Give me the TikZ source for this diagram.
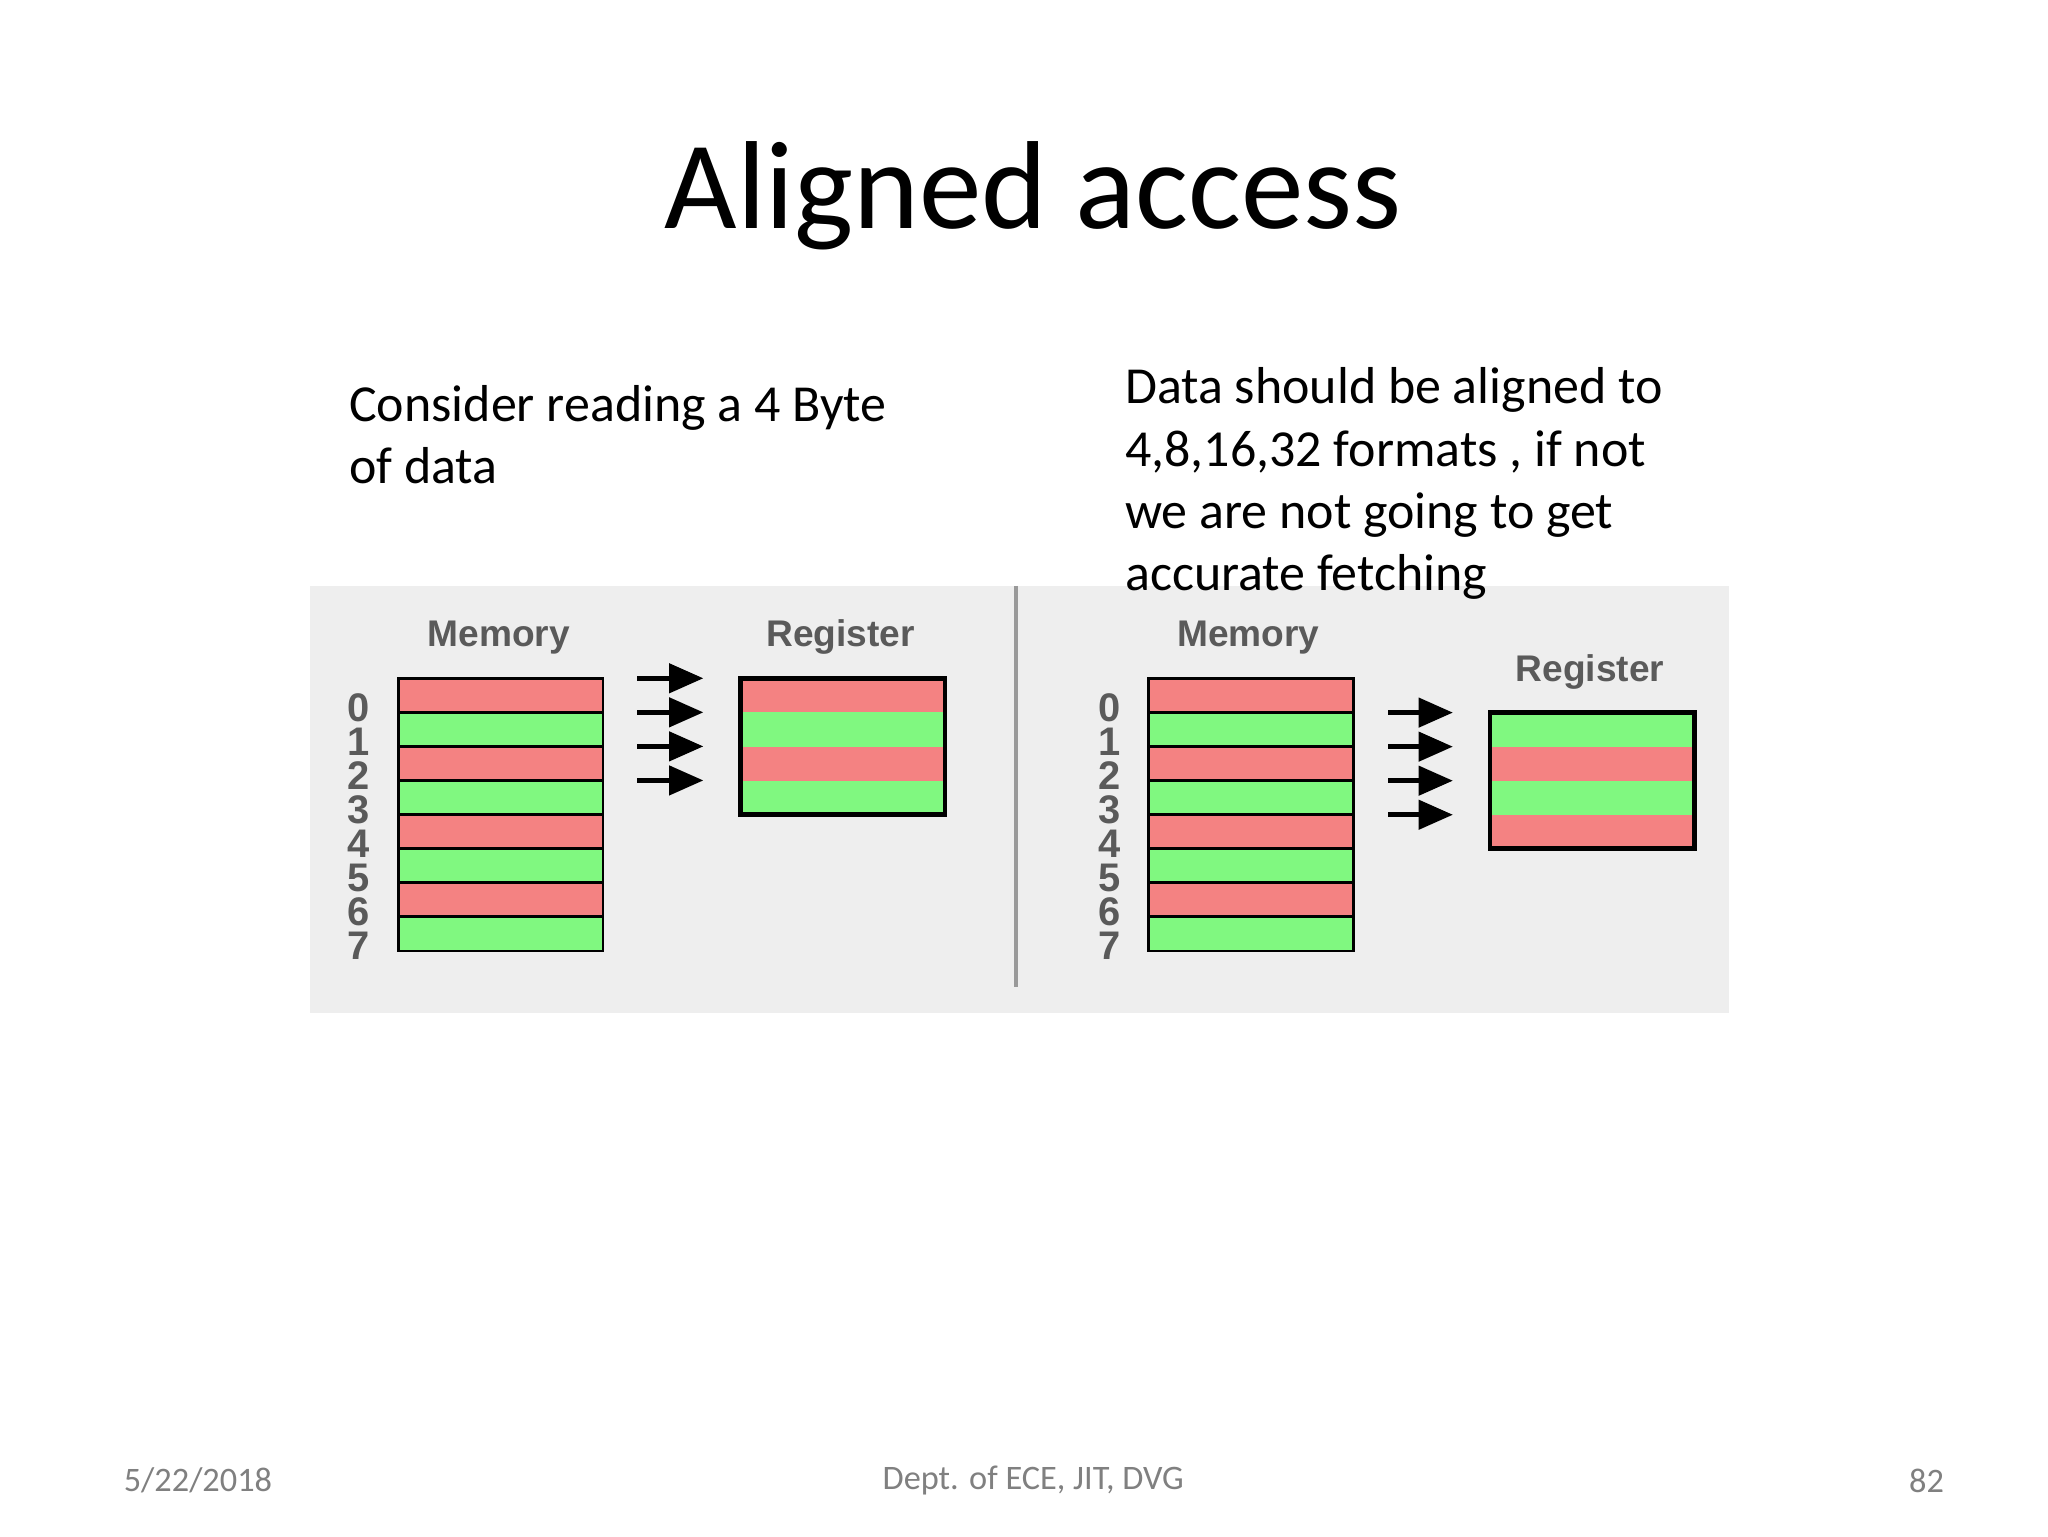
\documentclass[tikz,border=0pt]{standalone}
\usepackage{fontspec}
\setmainfont{Carlito}
\newfontfamily\lab{Liberation Sans}
\usetikzlibrary{arrows.meta}
\definecolor{rowred}{HTML}{F48282}
\definecolor{rowgreen}{HTML}{80F880}
\definecolor{panel}{HTML}{EEEEEE}
\definecolor{labgray}{HTML}{5A5A5A}
\tikzset{
  cell/.style={draw=black,line width=0.55pt,minimum width=15.5mm,minimum height=2.58mm,inner sep=0pt,outer sep=0pt},
  lbl/.style={font=\lab\bfseries\fontsize{8}{8}\selectfont,text=labgray,inner sep=0pt},
  num/.style={font=\lab\bfseries\fontsize{8.6}{8}\selectfont,text=labgray,inner sep=0pt},
  arr/.style={-{Triangle[length=2.6mm,width=2.2mm]},line width=1pt},
  body/.style={font=\fontsize{11.2}{13.4}\selectfont,align=left,anchor=north west,inner sep=0pt},
  foot/.style={font=\fontsize{7.4}{8}\selectfont,text=gray,inner sep=0pt}
}
\begin{document}
\begin{tikzpicture}[x=0.1mm,y=-0.1mm]
\useasboundingbox (0,0) rectangle (1552,1164);
\fill[white] (0,0) rectangle (1552,1164);
\node[font=\fontsize{27}{30}\selectfont,inner sep=0pt] (title) at (783,148) {Aligned access};
\fill[panel] (235,444) rectangle (1310,768);
\draw[gray!80,line width=1pt] (770,444) -- (770,748);
\node[body] (t1) at (264,291) {Consider reading a 4 Byte\\of data};
\node[body] (t2) at (852,278) {Data should be aligned to\\4,8,16,32 formats , if not\\we are not going to get\\accurate fetching};
\node[lbl] (m1) at (378,483) {Memory};
\node[lbl] (r1) at (637,483) {Register};
\foreach \i in {0,...,7}{
  \pgfmathsetmacro{\yy}{527+25.8*\i}
  \pgfmathtruncatemacro{\odd}{mod(\i,2)}
  \ifnum\odd=0 \def\c{rowred}\else\def\c{rowgreen}\fi
  \node[cell,fill=\c] (lm\i) at (379.5,\yy) {};
  \node[num] (ln\i) at (272,\yy+9) {\i};
  \node[cell,fill=\c] (rm\i) at (948,\yy) {};
  \node[num] (rn\i) at (841,\yy+9) {\i};
}
\foreach \i in {0,...,3}{
  \pgfmathsetmacro{\yy}{527+25.8*\i}
  \pgfmathtruncatemacro{\odd}{mod(\i,2)}
  \ifnum\odd=0 \def\c{rowred}\def\d{rowgreen}\else\def\c{rowgreen}\def\d{rowred}\fi
  \node[cell,fill=\c,draw=none] (lr\i) at (638.5,\yy) {};
  \node[cell,fill=\d,draw=none] (rr\i) at (1206.5,\yy+25.8) {};
  \coordinate (la\i) at (483,\yy-13);
  \coordinate (lb\i) at (533,\yy-13);
  \draw[arr] (la\i) -- (lb\i);
  \coordinate (ra\i) at (1052,\yy+13);
  \coordinate (rb\i) at (1101,\yy+13);
  \draw[arr] (ra\i) -- (rb\i);
}
\draw[line width=1pt] (lr0.north west) rectangle (lr3.south east);
\draw[line width=1pt] (rr0.north west) rectangle (rr3.south east);
\node[lbl] (m2) at (946,483) {Memory};
\node[lbl] (r2) at (1205,509) {Register};
\node[foot] (f1) at (150,1122) {5/22/2018};
\node[foot] (f2) at (783,1122) {Dept. of ECE, JIT, DVG};
\node[foot] (f3) at (1460,1122) {82};
\end{tikzpicture}
\end{document}
